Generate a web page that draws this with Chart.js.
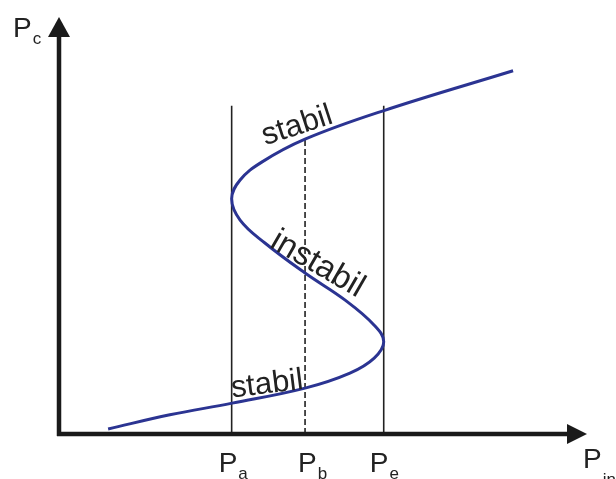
<!DOCTYPE html>
<html>
<head>
<meta charset="utf-8">
<script src="https://cdn.jsdelivr.net/npm/chart.js@4/dist/chart.umd.min.js"></script>
<style>
  body { margin: 0; background: #fff; }
  #wrap { width: 616px; height: 479px; }
</style>
</head>
<body>
<div id="wrap"><canvas id="grafico-histeresis" width="616" height="479"></canvas></div>
<script>
// Curva en S (unidades arbitrarias 0-100 en ambos ejes)
const curvaX = [9.3, 21.0, 32.8, 46.6, 55.1, 59.7, 61.5, 59.7, 54.2, 46.6, 39.0, 34.3, 32.7, 34.3, 38.4, 46.6, 61.4, 86.0];
const curvaY = [1.2, 4.6, 7.4, 11.0, 14.6, 18.2, 22.1, 26.1, 32.1, 38.6, 45.8, 51.3, 56.4, 60.9, 65.2, 70.7, 77.5, 87.1];

// Marcas sobre el eje horizontal: Pa, Pb, Pe
const marcasSub = ['a', 'b', 'e'];
const marcasX = [32.7, 46.6, 61.5];
const marcasTope = [78.7, 70.7, 78.7];

// Textos sobre la curva
const tramosTexto = ['stabil', 'instabil', 'stabil'];

const FUENTE = '"Liberation Sans", Arial, sans-serif';

function puntos(xs, ys) {
  return xs.map((x, i) => ({ x: x, y: ys[i] }));
}

// Dibuja "P" con subíndice
function textoSub(ctx, sub, x, y, ySub) {
  ctx.font = '28px ' + FUENTE;
  ctx.textAlign = 'left';
  ctx.textBaseline = 'alphabetic';
  ctx.fillText('P', x, y);
  const w = ctx.measureText('P').width;
  ctx.font = '17px ' + FUENTE;
  ctx.fillText(sub, x + w + 1, ySub);
}

const ejesPlugin = {
  id: 'ejes',
  afterDatasetsDraw(chart) {
    const ctx = chart.ctx;
    const sx = chart.scales.x;
    const sy = chart.scales.y;
    const x0 = sx.getPixelForValue(0);
    const y0 = sy.getPixelForValue(0);
    const xFin = sx.getPixelForValue(100);
    const yFin = sy.getPixelForValue(100);

    ctx.save();
    ctx.fillStyle = '#1a1a1a';
    ctx.strokeStyle = '#1a1a1a';
    ctx.lineWidth = 4.5;
    ctx.beginPath();
    ctx.moveTo(x0 - 2, y0);
    ctx.lineTo(xFin - 18, y0);
    ctx.moveTo(x0, y0 + 2);
    ctx.lineTo(x0, yFin + 18);
    ctx.stroke();

    // Flechas
    ctx.beginPath();
    ctx.moveTo(xFin, y0);
    ctx.lineTo(xFin - 20, y0 - 10);
    ctx.lineTo(xFin - 20, y0 + 10);
    ctx.closePath();
    ctx.fill();
    ctx.beginPath();
    ctx.moveTo(x0, yFin);
    ctx.lineTo(x0 - 11, yFin + 20);
    ctx.lineTo(x0 + 11, yFin + 20);
    ctx.closePath();
    ctx.fill();

    // Etiquetas de los ejes
    ctx.fillStyle = '#222';
    textoSub(ctx, 'c', 13, 37, 44);
    textoSub(ctx, 'in', xFin - 4, 468, 485);
    const desplaz = [-13, -7, -14];
    marcasX.forEach((v, i) => {
      textoSub(ctx, marcasSub[i], sx.getPixelForValue(v) + desplaz[i], 472, 479);
    });

    // Textos rotados sobre la curva
    const pos = [[45.6, 71.9, -18], [48.1, 38.8, 30], [39.6, 9.8, -7]];
    const tam = [31, 33, 31];
    tramosTexto.forEach((t, i) => {
      ctx.save();
      ctx.translate(sx.getPixelForValue(pos[i][0]), sy.getPixelForValue(pos[i][1]));
      ctx.rotate(pos[i][2] * Math.PI / 180);
      ctx.font = tam[i] + 'px ' + FUENTE;
      ctx.textAlign = 'center';
      ctx.textBaseline = 'alphabetic';
      ctx.fillText(t, 0, 0);
      ctx.restore();
    });
    ctx.restore();
  }
};

const datasets = [
  {
    label: 'Pc',
    data: puntos(curvaX, curvaY),
    showLine: true,
    borderColor: '#2b3492',
    borderWidth: 3,
    pointRadius: 0,
    tension: 0.4
  }
];
marcasX.forEach((v, i) => {
  datasets.push({
    label: 'P' + marcasSub[i],
    data: [{ x: v, y: 0 }, { x: v, y: marcasTope[i] }],
    showLine: true,
    borderColor: '#222',
    borderWidth: 1.6,
    borderDash: marcasSub[i] === 'b' ? [6, 3] : [],
    pointRadius: 0
  });
});

new Chart(document.getElementById('grafico-histeresis'), {
  type: 'scatter',
  data: { datasets: datasets },
  options: {
    responsive: false,
    animation: false,
    layout: { padding: { left: 59, right: 29, top: 17, bottom: 45 } },
    plugins: {
      legend: { display: false },
      tooltip: { enabled: false }
    },
    scales: {
      x: { type: 'linear', min: 0, max: 100, display: false },
      y: { type: 'linear', min: 0, max: 100, display: false }
    }
  },
  plugins: [ejesPlugin]
});
</script>
</body>
</html>
